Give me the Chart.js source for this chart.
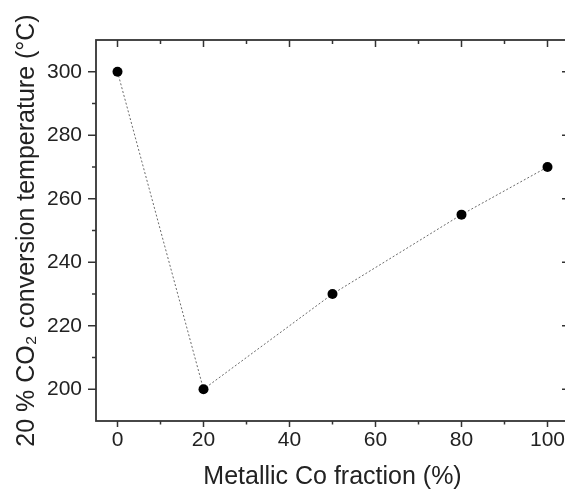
<!DOCTYPE html>
<html>
<head>
<meta charset="utf-8">
<script src="https://cdn.jsdelivr.net/npm/chart.js@4/dist/chart.umd.min.js"></script>
<style>
  html, body { margin: 0; padding: 0; background: #fff; overflow: hidden; }
  /* a bit wider than the window so the right frame falls just outside, like the cropped original */
  #wrap { width: 574px; height: 490px; }
</style>
</head>
<body>
<div id="wrap"><canvas id="canvas" width="574" height="490"></canvas></div>
<script>
// data
var CO_FRACTION = [0, 20, 50, 80, 100];
var CONV_TEMP = [300, 200, 230, 255, 270];

// axis ticks
var X_TICKS = [0, 20, 40, 60, 80, 100];
var X_MINOR = [10, 30, 50, 70, 90];
var Y_TICKS = [200, 220, 240, 260, 280, 300];
var Y_MINOR = [210, 230, 250, 270, 290];

var AXIS_COLOR = '#333';
var FONT = "'Liberation Sans', Arial, sans-serif";

/* draws the box and all the tick marks (in / out like the original) */
var frameTicks = {
  id: 'frameTicks',
  afterDraw: function(chart) {
    var ctx = chart.ctx;
    var a = chart.chartArea;
    var xs = chart.scales.x, ys = chart.scales.y;
    ctx.save();
    ctx.strokeStyle = AXIS_COLOR;
    ctx.lineWidth = 1.8;
    ctx.strokeRect(a.left, a.top, a.right - a.left, a.bottom - a.top);

    ctx.lineWidth = 1.5;
    function tick(x1, y1, x2, y2) {
      ctx.beginPath();
      ctx.moveTo(x1, y1);
      ctx.lineTo(x2, y2);
      ctx.stroke();
    }
    // bottom: outward, top: inward
    X_TICKS.forEach(function(v) {
      var px = xs.getPixelForValue(v);
      tick(px, a.bottom, px, a.bottom + 6);
      tick(px, a.top, px, a.top + 7);
    });
    X_MINOR.forEach(function(v) {
      var px = xs.getPixelForValue(v);
      tick(px, a.bottom, px, a.bottom + 3.5);
      tick(px, a.top, px, a.top + 4);
    });
    // left: outward, right: inward
    Y_TICKS.forEach(function(v) {
      var py = ys.getPixelForValue(v);
      tick(a.left - 8, py, a.left, py);
      tick(a.right - 7, py, a.right, py);
    });
    Y_MINOR.forEach(function(v) {
      var py = ys.getPixelForValue(v);
      tick(a.left - 4, py, a.left, py);
      tick(a.right - 4, py, a.right, py);
    });
    ctx.restore();
  }
};

var ctx = document.getElementById('canvas').getContext('2d');
window.myLine = new Chart(ctx, {
  type: 'scatter',
  data: {
    datasets: [{
      label: 'T20',
      data: CO_FRACTION.map(function(x, i) { return { x: x, y: CONV_TEMP[i] }; }),
      showLine: true,
      borderColor: '#6a6a6a',
      borderWidth: 1,
      borderDash: [2, 2],
      pointRadius: 5,
      pointHoverRadius: 5,
      pointBackgroundColor: '#000',
      pointBorderWidth: 0
    }]
  },
  options: {
    responsive: false,
    animation: false,
    layout: { padding: { top: 40, right: 0, left: 0, bottom: 0 } },
    plugins: {
      legend: { display: false },
      tooltip: { enabled: false }
    },
    scales: {
      x: {
        type: 'linear',
        min: -5,
        max: 105,
        afterBuildTicks: function(s) { s.ticks = X_TICKS.map(function(v) { return { value: v }; }); },
        afterFit: function(s) { s.height = 69; },
        grid: { display: false, drawTicks: false },
        border: { display: false },
        ticks: { color: '#222', padding: 7, font: { family: FONT, size: 21 } },
        title: {
          display: true,
          text: 'Metallic Co fraction (%)',
          color: '#222',
          padding: 0,
          font: { family: FONT, size: 25, lineHeight: 1 }
        }
      },
      y: {
        type: 'linear',
        min: 190,
        max: 310,
        afterBuildTicks: function(s) { s.ticks = Y_TICKS.map(function(v) { return { value: v }; }); },
        afterFit: function(s) { s.width = 96; },
        grid: { display: false, drawTicks: false },
        border: { display: false },
        ticks: { color: '#222', padding: 14, font: { family: FONT, size: 21 } },
        title: {
          display: true,
          text: '20 % CO\u2082 conversion temperature (\u00b0C)',
          color: '#222',
          padding: { top: 15, bottom: 0 },
          font: { family: FONT, size: 25, lineHeight: 1 }
        }
      }
    }
  },
  plugins: [frameTicks]
});
</script>
</body>
</html>
